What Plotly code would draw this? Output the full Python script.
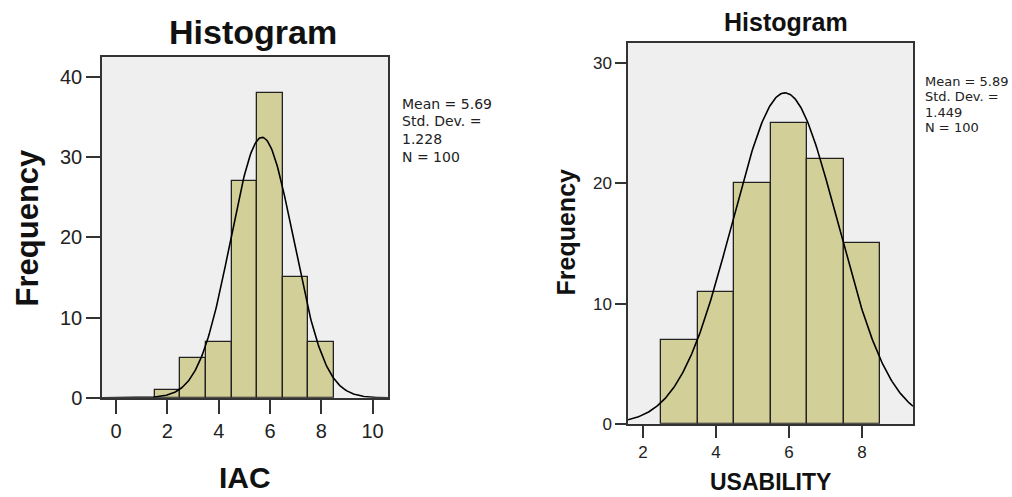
import numpy as np
import plotly.graph_objects as go

# ---- data ----
iac_bins = [2, 3, 4, 5, 6, 7, 8]
iac_freq = [1, 5, 7, 27, 38, 15, 7]
iac_mean, iac_sd, iac_n = 5.69, 1.228, 100

usa_bins = [3, 4, 5, 6, 7, 8]
usa_freq = [7, 11, 20, 25, 22, 15]
usa_mean, usa_sd, usa_n = 5.89, 1.449, 100

iac_xticks = [0, 2, 4, 6, 8, 10]
iac_yticks = [0, 10, 20, 30, 40]
usa_xticks = [2, 4, 6, 8]
usa_yticks = [0, 10, 20, 30]

BAR = "#D3CF98"
BG = "#EFEFEF"
W, H = 1012, 497
HR = 485.0  # effective rendered height used for vertical placement


def py(y):
    return 1 - y / HR


def normal_curve(mean, sd, n, lo, hi):
    xs = np.linspace(lo, hi, 300)
    ys = n * 1.0 / (sd * np.sqrt(2 * np.pi)) * np.exp(-0.5 * ((xs - mean) / sd) ** 2)
    return xs, ys


fig = go.Figure()

iac_xr = [-0.55, 10.6]
usa_xr = [1.59, 9.40]

fig.add_trace(go.Bar(x=iac_bins, y=iac_freq, width=1, marker=dict(color=BAR, line=dict(color="#222", width=1.3)),
                     xaxis="x", yaxis="y", showlegend=False))
cx, cy = normal_curve(iac_mean, iac_sd, iac_n, iac_xr[0], iac_xr[1])
fig.add_trace(go.Scatter(x=cx, y=cy, mode="lines", line=dict(color="black", width=1.6),
                         xaxis="x", yaxis="y", showlegend=False))

fig.add_trace(go.Bar(x=usa_bins, y=usa_freq, width=1, marker=dict(color=BAR, line=dict(color="#222", width=1.3)),
                     xaxis="x2", yaxis="y2", showlegend=False))
cx2, cy2 = normal_curve(usa_mean, usa_sd, usa_n, usa_xr[0], usa_xr[1])
fig.add_trace(go.Scatter(x=cx2, y=cy2, mode="lines", line=dict(color="black", width=1.6),
                         xaxis="x2", yaxis="y2", showlegend=False))

axcommon = dict(showgrid=False, zeroline=False, showline=True, linecolor="#333", linewidth=1.5,
                mirror=True, ticks="outside", tickcolor="#333", tickwidth=1.5)

fig.update_layout(
    width=W, height=H,
    margin=dict(l=0, r=0, t=0, b=0),
    paper_bgcolor="white",
    plot_bgcolor=BG,
    bargap=0,
    font=dict(family="Liberation Sans, Arial, sans-serif", color="#222"),
    xaxis=dict(domain=[102 / W, 388 / W], range=iac_xr, tickvals=iac_xticks, ticklen=14,
               tickfont=dict(size=20), anchor="y", **axcommon),
    yaxis=dict(domain=[py(397), py(57)], range=[0, 42.5], tickvals=iac_yticks, ticklen=14,
               tickfont=dict(size=20), anchor="x", **axcommon),
    xaxis2=dict(domain=[628 / W, 913 / W], range=usa_xr, tickvals=usa_xticks, ticklen=12,
                tickfont=dict(size=17), anchor="y2", **axcommon),
    yaxis2=dict(domain=[py(423), py(43)], range=[0, 31.67], tickvals=usa_yticks, ticklen=11,
                tickfont=dict(size=17), anchor="x2", **axcommon),
)

ann = []
# titles
ann.append(dict(text="<b>Histogram</b>", x=253 / W, y=py(32), font=dict(size=34, color="#111")))
ann.append(dict(text="<b>Histogram</b>", x=786 / W, y=py(22), font=dict(size=25, color="#111")))
# axis titles
ann.append(dict(text="<b>Frequency</b>", x=27 / W, y=py(227), textangle=-90, font=dict(size=31, color="#111")))
ann.append(dict(text="<b>Frequency</b>", x=566 / W, y=py(232), textangle=-90, font=dict(size=25, color="#111")))
ann.append(dict(text="<b>IAC</b>", x=245 / W, y=py(477), font=dict(size=30, color="#111")))
ann.append(dict(text="<b>USABILITY</b>", x=770 / W, y=py(481), font=dict(size=23, color="#111")))

# stats text
left_lines = [f"Mean = {iac_mean:.2f}", "Std. Dev. =", f"{iac_sd:.3f}", f"N = {iac_n}"]
left_y = [104, 121, 139, 157]
for t, yy in zip(left_lines, left_y):
    ann.append(dict(text=t, x=400 / W, y=py(yy), xanchor="left",
                    font=dict(family="DejaVu Sans, sans-serif", size=14, color="#222")))
right_lines = [f"Mean = {usa_mean:.2f}", "Std. Dev. =", f"{usa_sd:.3f}", f"N = {usa_n}"]
right_y = [81, 96.5, 112, 127]
for t, yy in zip(right_lines, right_y):
    ann.append(dict(text=t, x=923 / W, y=py(yy), xanchor="left",
                    font=dict(family="DejaVu Sans, sans-serif", size=13, color="#222")))

for a in ann:
    a.setdefault("xanchor", "center")
    a.update(xref="paper", yref="paper", yanchor="middle", showarrow=False)
fig.update_layout(annotations=ann)

fig.write_html("out.html")
